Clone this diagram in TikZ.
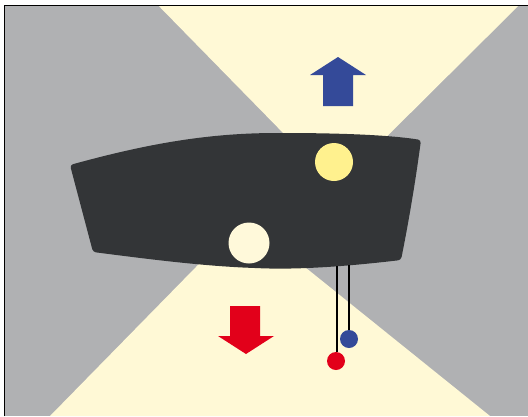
\documentclass[tikz,border=0pt]{standalone}
\usepackage{xcolor}
\usetikzlibrary{calc}

\definecolor{wallgray}{HTML}{B0B1B3}
\definecolor{beamcream}{HTML}{FFF9D6}
\definecolor{bodydark}{HTML}{333537}
\definecolor{lampyellow}{HTML}{FFF18E}
\definecolor{lampwhite}{HTML}{FFF9DA}
\definecolor{upblue}{HTML}{344A99}
\definecolor{downred}{HTML}{E2001A}

\tikzset{
  wire/.style={line width=1.8pt, black},
  knob/.style={circle, inner sep=0pt, minimum size=18pt},
}

\begin{document}
\begin{tikzpicture}[x=1pt, y=-1pt]
\useasboundingbox (0,0) rectangle (528,416);
\fill[white] (0,0) rectangle (528,416);
% Wall
\fill[wallgray] (5,6) rectangle (528,416);
\draw[line width=1.4pt] (4.5,416) -- (4.5,5.5) -- (528,5.5);
% Light beams (up and down)
\fill[beamcream] (159,6.2) -- (518,6.2) -- (336,187) -- cycle;
\fill[beamcream] (50,416) -- (490,416) -- (244,218) -- cycle;
% Luminaire body
\fill[bodydark, rounded corners=3pt]
  (70,165) .. controls (150,143) and (210,133) .. (280,133)
  .. controls (340,133) and (390,135) .. (421,140)
  .. controls (415,185) and (408,225) .. (401,260)
  .. controls (350,266) and (300,270) .. (255,268)
  .. controls (200,266) and (140,258) .. (93,252)
  -- cycle;
% Lamps
\fill[lampyellow] (334,162) circle (19);
\fill[lampwhite] (249,243) circle (20.5);
% Direction arrows
\fill[upblue] (323,106) -- (323,75) -- (310,75) -- (338,57) -- (366,75)
  -- (353,75) -- (353,106) -- cycle;
\fill[downred] (230,306) -- (260,306) -- (260,336) -- (274,336) -- (246,354)
  -- (218,336) -- (230,336) -- cycle;
% Pull cords
\coordinate (redtop) at (337,266);
\coordinate (bluetop) at (349,265);
\node[knob, fill=downred] (redknob) at (336,361) {};
\node[knob, fill=upblue] (blueknob) at (349,339) {};
\draw[wire] (redtop) -- (redtop |- redknob.north);
\draw[wire] (bluetop) -- (bluetop |- blueknob.north);
\end{tikzpicture}
\end{document}
